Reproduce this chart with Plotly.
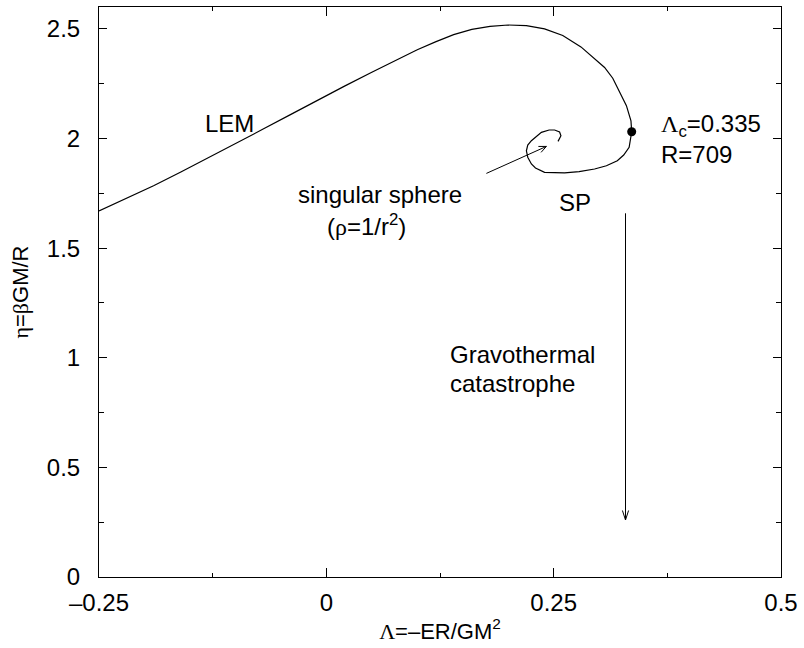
import numpy as np
import plotly.graph_objects as go

# ---- data ----
lam = [-0.25, -0.22, -0.19, -0.16, -0.13, -0.10, -0.07, -0.04, -0.01, 0.02,
       0.05, 0.08, 0.10, 0.12, 0.14, 0.16, 0.18, 0.20, 0.22, 0.24,
       0.26, 0.28, 0.295, 0.306, 0.315, 0.324, 0.330, 0.335, 0.3358,
       0.333, 0.327, 0.320, 0.308, 0.295, 0.278, 0.262, 0.250, 0.240,
       0.230, 0.2255, 0.2215, 0.220, 0.2215, 0.2255, 0.2365, 0.245,
       0.251, 0.2565, 0.258, 0.2548]
eta = [1.670, 1.726, 1.785, 1.847, 1.911, 1.976, 2.042, 2.108, 2.174, 2.239,
       2.302, 2.366, 2.405, 2.441, 2.474, 2.498, 2.512, 2.518, 2.515, 2.500,
       2.470, 2.418, 2.366, 2.324, 2.275, 2.203, 2.150, 2.081, 2.031,
       1.960, 1.925, 1.899, 1.876, 1.861, 1.849, 1.843, 1.843, 1.846,
       1.866, 1.884, 1.915, 1.944, 1.970, 1.990, 2.028, 2.039,
       2.039, 2.030, 2.013, 1.987]

crit_lam = [0.3358]
crit_eta = [2.031]

# arrows: tail -> tip
sing_arrow_lam = [0.176, 0.242]
sing_arrow_eta = [1.841, 1.964]
grav_arrow_lam = [0.329, 0.329]
grav_arrow_eta = [1.659, 0.26]

x_tickvals = [-0.25, 0, 0.25, 0.5]
x_ticktext = ["\u20130.25", "0", "0.25", "0.5"]
y_tickvals = [0, 0.5, 1, 1.5, 2, 2.5]
y_ticktext = ["0", "0.5", "1", "1.5", "2", "2.5"]

XR = [-0.25, 0.5]
YR = [0, 2.6]

W, H = 804, 648
ML, MR, MT, MB = 99, 20, 6, 71

FONT = "Liberation Sans"
FS = 24
GR = "<span style='font-family:Liberation Serif'>{}</span>"

fig = go.Figure()
fig.add_trace(go.Scatter(x=lam, y=eta, mode="lines",
                         line=dict(color="black", width=1.2), hoverinfo="skip"))
fig.add_trace(go.Scatter(x=crit_lam, y=crit_eta, mode="markers",
                         marker=dict(color="black", size=9)))
fig.add_trace(go.Scatter(x=sing_arrow_lam, y=sing_arrow_eta, mode="lines",
                         line=dict(color="black", width=1)))
fig.add_trace(go.Scatter(x=grav_arrow_lam, y=grav_arrow_eta, mode="lines",
                         line=dict(color="black", width=1)))

# arrow heads (open V) in pixel offsets around the tip
pw = W - ML - MR
ph = H - MT - MB
sx = pw / (XR[1] - XR[0])
sy = ph / (YR[1] - YR[0])
shapes = []
for (xs, ys, L, ang) in [(sing_arrow_lam, sing_arrow_eta, 8, 24),
                         (grav_arrow_lam, grav_arrow_eta, 10, 18)]:
    dx = (xs[1] - xs[0]) * sx
    dy = (ys[1] - ys[0]) * sy
    n = np.hypot(dx, dy)
    ux, uy = -dx / n, -dy / n
    for s in (1, -1):
        a = np.deg2rad(ang * s)
        vx = ux * np.cos(a) - uy * np.sin(a)
        vy = ux * np.sin(a) + uy * np.cos(a)
        shapes.append(dict(type="line", xref="x", yref="y",
                           xsizemode="pixel", ysizemode="pixel",
                           xanchor=xs[1], yanchor=ys[1],
                           x0=0, y0=0, x1=L * vx, y1=L * vy,
                           line=dict(color="black", width=1)))

ann = []
def txt(x, y, t, xanchor="center"):
    ann.append(dict(x=x, y=y, xref="x", yref="y", text=t, showarrow=False,
                    xanchor=xanchor, yanchor="middle",
                    font=dict(family=FONT, size=FS, color="black")))

txt(-0.1066, 2.068, "LEM")
txt(0.273, 1.706, "SP")
txt(0.0595, 1.747, "singular sphere")
txt(0.044, 1.604, "(" + GR.format("\u03c1") + "=1/r<sup>2</sup>)")
txt(0.366, 2.058, GR.format("\u039b") + "<sub>c</sub>=0.335", "left")
txt(0.366, 1.928, "R=709", "left")
txt(0.1343, 1.016, "Gravothermal", "left")
txt(0.1343, 0.882, "catastrophe", "left")

axis_common = dict(showline=True, linecolor="black", linewidth=1, mirror="allticks",
                   ticks="inside", tickcolor="black", tickwidth=1,
                   showgrid=False, zeroline=False,
                   tickfont=dict(family=FONT, size=FS, color="black"))

fig.update_layout(
    width=W, height=H,
    margin=dict(l=ML, r=MR, t=MT, b=MB),
    paper_bgcolor="white", plot_bgcolor="white",
    showlegend=False,
    shapes=shapes,
    annotations=ann,
    xaxis=dict(range=XR, tickmode="array", tickvals=x_tickvals, ticktext=x_ticktext,
               ticklen=9, ticklabelstandoff=4,
               minor=dict(ticks="inside", ticklen=4, dtick=0.125, tick0=0,
                          tickcolor="black", tickwidth=1, showgrid=False),
               title=dict(text=GR.format("\u039b") + "=\u2013ER/GM<sup>2</sup>",
                          font=dict(family=FONT, size=22, color="black"), standoff=8),
               **axis_common),
    yaxis=dict(range=YR, tickmode="array", tickvals=y_tickvals, ticktext=y_ticktext,
               ticklen=8, ticklabelstandoff=13,
               minor=dict(ticks="inside", ticklen=5, dtick=0.25, tick0=0,
                          tickcolor="black", tickwidth=1, showgrid=False),
               title=dict(text=GR.format("\u03b7") + "=" + GR.format("\u03b2") + "GM/R",
                          font=dict(family=FONT, size=22, color="black"), standoff=12),
               **axis_common),
)

fig.write_html("out.html",
               config={"displayModeBar": False, "staticPlot": True},
               post_script="document.body.style.margin='0';document.body.style.overflow='hidden';")
